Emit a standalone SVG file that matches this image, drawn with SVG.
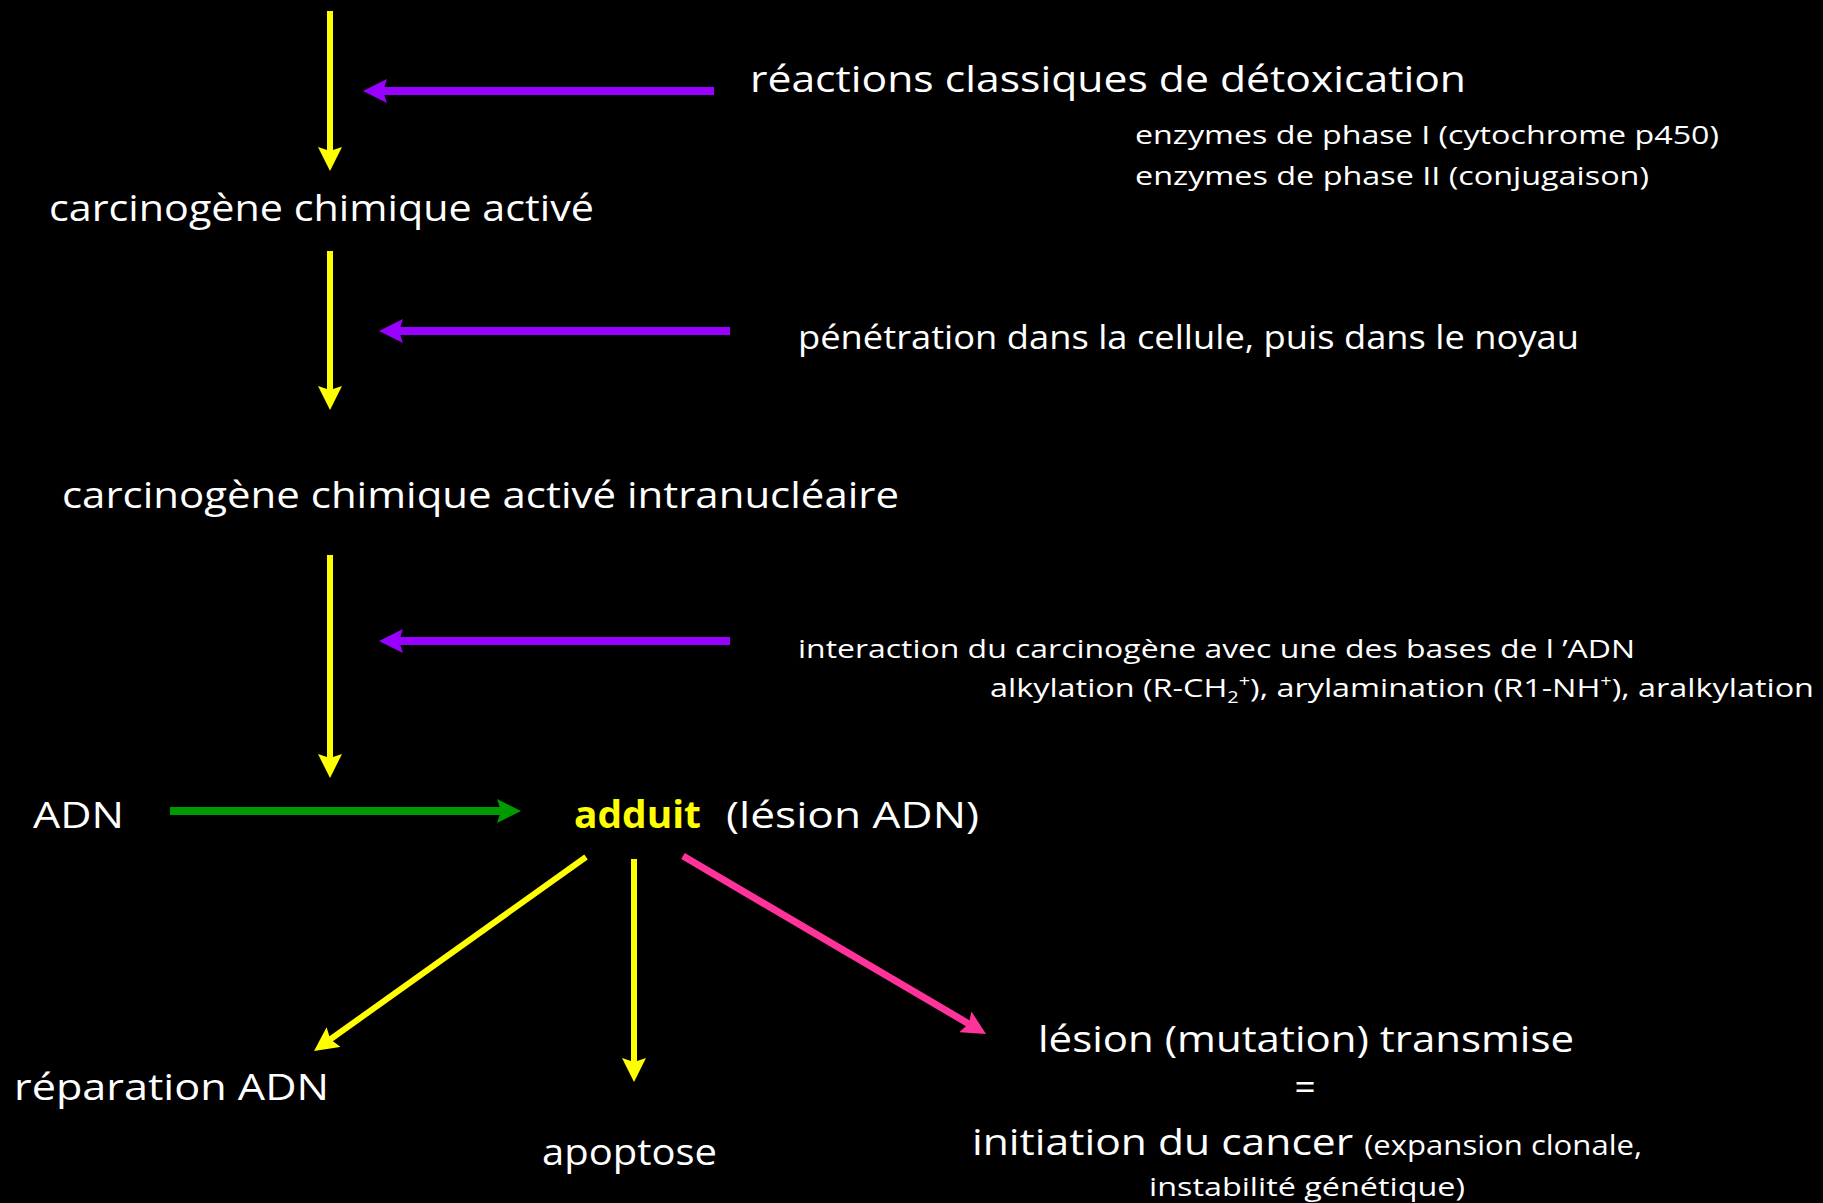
<svg xmlns="http://www.w3.org/2000/svg" width="1823" height="1203" viewBox="0 0 1823 1203">
  <style>
    text { font-family: "Comic Sans MS", "Open Sans", "DejaVu Sans", sans-serif; fill: #ffffff; }
    .big { font-size: 37px; }
    .mid { font-size: 33px; }
    .small { font-size: 26px; }
    .flow { stroke: #ffff00; stroke-width: 6; fill: none; }
    .side { stroke: #9900ff; stroke-width: 8; fill: none; }
    .dna { stroke: #009900; stroke-width: 8; fill: none; }
    .fate { stroke: #ff3399; stroke-width: 7; fill: none; }
  </style>
  <defs>
    <marker id="head-yellow" viewBox="0 0 24 24" refX="12" refY="12" markerWidth="24" markerHeight="24" markerUnits="userSpaceOnUse" orient="auto">
      <path d="M0,0 L24,12 L0,24 L4,12 z" fill="#ffff00"/>
    </marker>
    <marker id="head-purple" viewBox="0 0 24 24" refX="12" refY="12" markerWidth="24" markerHeight="24" markerUnits="userSpaceOnUse" orient="auto">
      <path d="M0,0 L24,12 L0,24 L4,12 z" fill="#9900ff"/>
    </marker>
    <marker id="head-green" viewBox="0 0 24 24" refX="12" refY="12" markerWidth="24" markerHeight="24" markerUnits="userSpaceOnUse" orient="auto">
      <path d="M0,0 L24,12 L0,24 L4,12 z" fill="#009900"/>
    </marker>
    <marker id="head-pink" viewBox="0 0 24 24" refX="12" refY="12" markerWidth="24" markerHeight="24" markerUnits="userSpaceOnUse" orient="auto">
      <path d="M0,0 L24,12 L0,24 L4,12 z" fill="#ff3399"/>
    </marker>
  </defs>

  <rect width="1823" height="1203" fill="#000000"/>

  <g id="connectors">
    <line class="flow" x1="330" y1="11" x2="330" y2="159" marker-end="url(#head-yellow)"/>
    <line class="side" x1="714" y1="91" x2="375" y2="91" marker-end="url(#head-purple)"/>
    <line class="flow" x1="330" y1="251" x2="330" y2="398" marker-end="url(#head-yellow)"/>
    <line class="side" x1="730" y1="331" x2="391" y2="331" marker-end="url(#head-purple)"/>
    <line class="flow" x1="330" y1="555" x2="330" y2="766" marker-end="url(#head-yellow)"/>
    <line class="side" x1="730" y1="641" x2="391" y2="641" marker-end="url(#head-purple)"/>
    <line class="dna" x1="170" y1="811" x2="509" y2="811" marker-end="url(#head-green)"/>
    <line class="flow" x1="586" y1="857" x2="323.8" y2="1044" marker-end="url(#head-yellow)"/>
    <line class="flow" x1="634" y1="859" x2="634" y2="1070" marker-end="url(#head-yellow)"/>
    <line class="fate" x1="683" y1="856" x2="975.7" y2="1027.9" marker-end="url(#head-pink)"/>
  </g>

  <g id="detox">
    <text class="big" x="750" y="92" textLength="716" lengthAdjust="spacingAndGlyphs">réactions classiques de détoxication</text>
    <text class="small" x="1135" y="144" textLength="584" lengthAdjust="spacingAndGlyphs">enzymes de phase I (cytochrome p450)</text>
    <text class="small" x="1135" y="185" textLength="514" lengthAdjust="spacingAndGlyphs">enzymes de phase II (conjugaison)</text>
  </g>

  <g id="active">
    <text class="big" x="49" y="221" textLength="545" lengthAdjust="spacingAndGlyphs">carcinogène chimique activé</text>
  </g>

  <g id="penetration">
    <text class="mid" x="798" y="349" textLength="781" lengthAdjust="spacingAndGlyphs">pénétration dans la cellule, puis dans le noyau</text>
  </g>

  <g id="intranuclear">
    <text class="big" x="62" y="508" textLength="837" lengthAdjust="spacingAndGlyphs">carcinogène chimique activé intranucléaire</text>
  </g>

  <g id="interaction">
    <text class="small" x="798" y="658" textLength="837" lengthAdjust="spacingAndGlyphs">interaction du carcinogène avec une des bases de l ’ADN</text>
    <text class="small" x="990" y="697" textLength="824" lengthAdjust="spacingAndGlyphs">alkylation (R-CH<tspan font-size="16" dy="6">2</tspan><tspan font-size="16" dy="-16">+</tspan><tspan dy="10">), arylamination (R1-NH</tspan><tspan font-size="16" dy="-10">+</tspan><tspan dy="10">), aralkylation</tspan></text>
  </g>

  <g id="adn">
    <text class="big" x="33" y="828" textLength="91" lengthAdjust="spacingAndGlyphs">ADN</text>
  </g>

  <g id="adduct">
    <text class="big" x="574" y="828" textLength="127" lengthAdjust="spacingAndGlyphs" style="fill:#ffff00;font-weight:bold">adduit</text>
    <text class="big" x="726" y="828" textLength="253" lengthAdjust="spacingAndGlyphs">(lésion ADN)</text>
  </g>

  <g id="repair">
    <text class="big" x="14" y="1100" textLength="315" lengthAdjust="spacingAndGlyphs">réparation ADN</text>
  </g>

  <g id="apoptosis">
    <text class="big" x="542" y="1165" textLength="175" lengthAdjust="spacingAndGlyphs">apoptose</text>
  </g>

  <g id="initiation">
    <text class="big" x="1038" y="1052" textLength="536" lengthAdjust="spacingAndGlyphs">lésion (mutation) transmise</text>
    <text class="big" x="1305" y="1100" text-anchor="middle">=</text>
    <text class="big" x="972" y="1155" textLength="670" lengthAdjust="spacingAndGlyphs">initiation du cancer <tspan font-size="27">(expansion clonale,</tspan></text>
    <text class="small" x="1149" y="1196" textLength="316" lengthAdjust="spacingAndGlyphs">instabilité génétique)</text>
  </g>
</svg>
